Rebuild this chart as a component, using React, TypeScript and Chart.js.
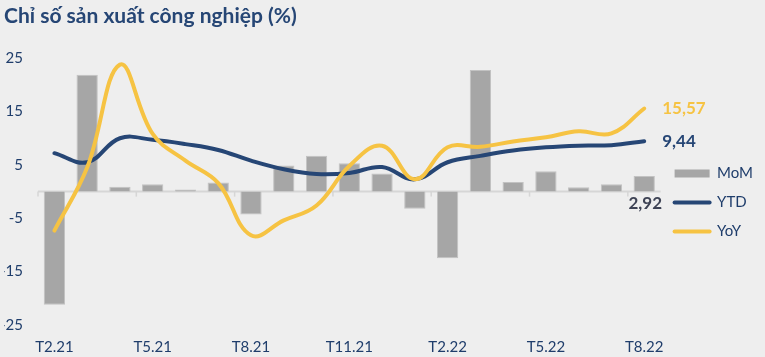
import React, { useEffect, useRef } from "react";
import { Chart, registerables } from "chart.js";

Chart.register(...registerables);

const categories = [
  "T2.21", "T3.21", "T4.21", "T5.21", "T6.21", "T7.21", "T8.21", "T9.21", "T10.21",
  "T11.21", "T12.21", "T1.22", "T2.22", "T3.22", "T4.22", "T5.22", "T6.22", "T7.22", "T8.22",
];
const momValues = [-21.2, 21.9, 0.9, 1.4, 0.4, 1.7, -4.3, 4.9, 6.7, 5.3, 3.4, -3.2, -12.5, 22.8, 1.8, 3.8, 0.8, 1.4, 2.92];
const ytdValues = [7.2, 5.5, 10.0, 9.7, 8.9, 7.8, 5.8, 4.2, 3.3, 3.5, 4.6, 2.3, 5.5, 6.7, 7.7, 8.3, 8.6, 8.7, 9.44];
const yoyValues = [-7.3, 4.5, 23.8, 10.8, 5.8, 1.6, -8.2, -5.4, -2.6, 4.8, 8.6, 2.3, 8.3, 8.4, 9.4, 10.2, 11.3, 10.9, 15.57];
const yTicks = [-25, -15, -5, 5, 15, 25];

const TITLE = "Chỉ số sản xuất công nghiệp (%)";
const NAVY = "#1f3d6b";
const BLUE = "#264675";
const YELLOW = "#f6c343";
const GRAY = "#a6a6a6";
const FONT = "Lato, 'Open Sans', sans-serif";

const fmt = (v: number) => v.toFixed(2).replace(".", ",");

const axisPlugin = {
  id: "zeroAxis",
  beforeDatasetsDraw(chart: any) {
    const { ctx, chartArea, scales } = chart;
    const y0 = scales.y.getPixelForValue(0);
    const n = categories.length;
    const w = (chartArea.right - chartArea.left) / n;
    ctx.save();
    ctx.strokeStyle = "#d6d6d6";
    ctx.lineWidth = 2;
    ctx.beginPath();
    ctx.moveTo(chartArea.left, y0);
    ctx.lineTo(chartArea.right, y0);
    ctx.stroke();
    ctx.lineWidth = 1.5;
    for (let i = 0; i < n; i += 3) {
      const x = chartArea.left + i * w;
      ctx.beginPath();
      ctx.moveTo(x, y0);
      ctx.lineTo(x, y0 + 5);
      ctx.stroke();
    }
    ctx.restore();
  },
};

const labelPlugin = {
  id: "lastLabels",
  afterDatasetsDraw(chart: any) {
    const { ctx, scales } = chart;
    const n = categories.length - 1;
    ctx.save();
    ctx.font = `bold 17px ${FONT}`;
    ctx.textBaseline = "middle";
    const yoyP = chart.getDatasetMeta(2).data[n];
    ctx.fillStyle = YELLOW;
    ctx.textAlign = "left";
    ctx.fillText(fmt(yoyValues[n]), yoyP.x + 18, yoyP.y);
    const ytdP = chart.getDatasetMeta(1).data[n];
    ctx.fillStyle = BLUE;
    ctx.fillText(fmt(ytdValues[n]), ytdP.x + 18, ytdP.y);
    const momP = chart.getDatasetMeta(0).data[n];
    ctx.fillStyle = "#3d4254";
    ctx.textAlign = "center";
    ctx.fillText(fmt(momValues[n]), momP.x + 1, scales.y.getPixelForValue(0) + 12);
    ctx.restore();
  },
};

export default function App() {
  const ref = useRef<HTMLCanvasElement>(null);
  useEffect(() => {
    if (!ref.current) return;
    const chart = new Chart(ref.current, {
      type: "bar",
      data: {
        labels: categories,
        datasets: [
          {
            type: "bar",
            label: "MoM",
            data: momValues,
            backgroundColor: GRAY,
            borderColor: "#c2c2c2",
            borderWidth: 1,
            barPercentage: 0.65,
            categoryPercentage: 1,
            order: 3,
          },
          {
            type: "line",
            label: "YTD",
            data: ytdValues,
            borderColor: BLUE,
            backgroundColor: BLUE,
            borderWidth: 4,
            borderCapStyle: "round",
            pointRadius: 0,
            tension: 0.4,
            order: 2,
          },
          {
            type: "line",
            label: "YoY",
            data: yoyValues,
            borderColor: YELLOW,
            backgroundColor: YELLOW,
            borderWidth: 4,
            borderCapStyle: "round",
            pointRadius: 0,
            tension: 0.4,
            order: 1,
          },
        ] as any,
      },
      options: {
        animation: false,
        responsive: false,
        maintainAspectRatio: false,
        layout: { padding: { left: 4, right: 2, top: 0, bottom: 0 } },
        plugins: {
          title: {
            display: true,
            text: TITLE,
            align: "start",
            color: BLUE,
            font: { family: FONT, size: 21, weight: "bold" },
            padding: { top: 4, bottom: 29 },
          },
          legend: {
            position: "right",
            title: { display: true, text: "", font: { size: 10 }, padding: { top: 36, bottom: 0 } },
            labels: {
              usePointStyle: true,
              pointStyleWidth: 35,
              boxHeight: 8,
              padding: 14,
              color: NAVY,
              font: { family: FONT, size: 15 },
              generateLabels: (chart: any) =>
                chart.data.datasets.map((ds: any, i: number) => ({
                  text: ds.label,
                  fillStyle: ds.type === "line" ? ds.backgroundColor : GRAY,
                  strokeStyle: ds.type === "line" ? ds.borderColor : GRAY,
                  lineWidth: ds.type === "line" ? 4 : 0,
                  lineCap: "round",
                  pointStyle: ds.type === "line" ? "line" : "rect",
                  fontColor: NAVY,
                  datasetIndex: i,
                  hidden: false,
                })),
            },
          },
          tooltip: { enabled: false },
        },
        scales: {
          x: {
            grid: { display: false, drawTicks: false },
            border: { display: false },
            afterFit: (axis: any) => {
              axis.height = 32;
            },
            ticks: {
              autoSkip: false,
              maxRotation: 0,
              padding: 13,
              color: NAVY,
              font: { family: FONT, size: 15 },
              callback: function (this: any, val: any, idx: number) {
                return idx % 3 === 0 ? this.getLabelForValue(val) : "";
              },
            },
          },
          y: {
            min: yTicks[0],
            max: yTicks[yTicks.length - 1],
            grid: { display: false, drawTicks: false },
            border: { display: false },
            afterBuildTicks: (axis: any) => {
              axis.ticks = yTicks.map((v) => ({ value: v }));
            },
            afterFit: (axis: any) => {
              axis.width = 34;
            },
            ticks: {
              padding: 15,
              color: NAVY,
              font: { family: FONT, size: 15 },
            },
          },
        },
      },
      plugins: [axisPlugin, labelPlugin],
    });
    return () => chart.destroy();
  }, []);
  return (
    <div style={{ position: "absolute", left: 0, top: 0, width: 765, height: 357, background: "#eeeeee" }}>
      <canvas ref={ref} width={765} height={357} style={{ display: "block" }} />
    </div>
  );
}
